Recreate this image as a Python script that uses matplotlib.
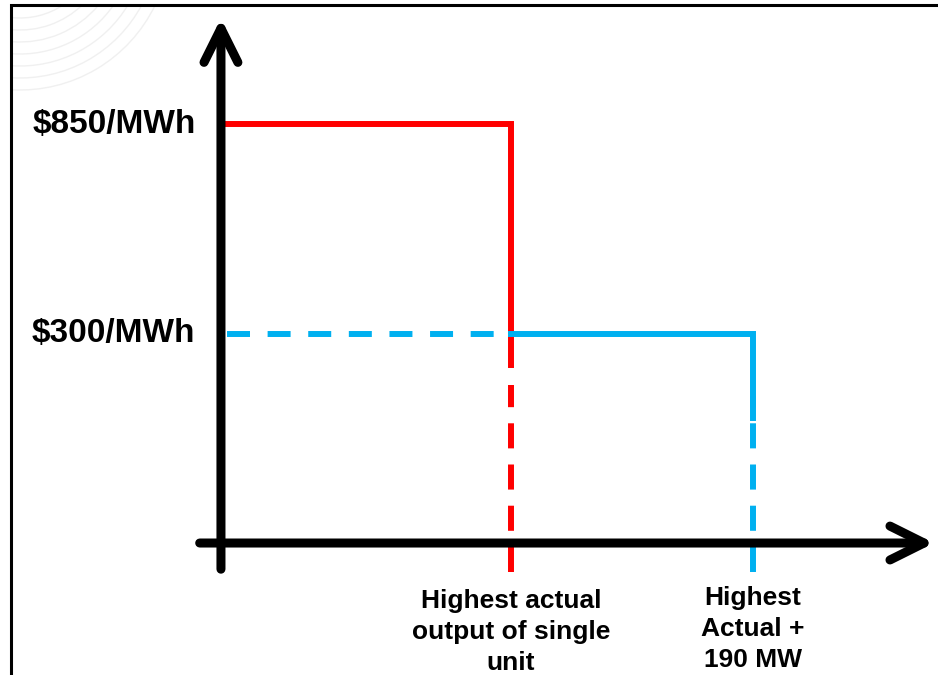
"""Schematic offer curve: price cap steps for a single unit and for highest actual + 190 MW."""

import matplotlib

matplotlib.use("Agg")
import numpy as np
import matplotlib.pyplot as plt
from matplotlib.patches import Arc

# schematic values (chart is not drawn to scale)
PRICE_LABELS = ["$850/MWh", "$300/MWh"]
PRICE_LEVELS = [2.0, 1.0]          # relative heights on the price axis
QTY_LABELS = ["Highest actual\noutput of single\nunit", "Highest\nActual +\n190 MW"]
QTY_LEVELS = [1.2, 2.2]            # relative positions on the quantity axis

RED = "#FF0000"
BLUE = "#00B0F0"
FONT = "Liberation Sans"

plt.rcParams["font.family"] = [FONT, "DejaVu Sans"]

fig = plt.figure(figsize=(9.38, 6.75), dpi=100)
ax = fig.add_axes([0, 0, 1, 1])
ax.set_xlim(-0.914, 2.966)
ax.set_ylim(-0.630, 2.592)
ax.axis("off")

# faint watermark arcs in the top-left corner, kept inside the frame
cx, cy = 20, -60  # centre in image pixels (from top-left)
for r in range(78, 160, 12):
    # angle where the arc meets the left frame edge and the top frame edge
    t_left = np.degrees(np.arctan2(-np.sqrt(r**2 - (12 - cx) ** 2), 12 - cx)) % 360
    t_top = np.degrees(np.arctan2(-(5 - cy), np.sqrt(r**2 - (5 - cy) ** 2))) % 360
    ax.add_patch(Arc((cx / 100, (675 - cy) / 100), 2 * r / 100, 2 * r / 100,
                     theta1=t_left, theta2=t_top, transform=fig.dpi_scale_trans,
                     color="#f0f0f0", lw=1.0))

# slide frame (left and top edges)
ax.plot([0.0117, 0.0117, 1.0], [0.0, 0.9926, 0.9926], transform=ax.transAxes,
        color="black", lw=2.2, clip_on=False, solid_joinstyle="miter")

# axes with open arrow heads
arrow = dict(arrowstyle="->, head_length=2.45, head_width=1.22", lw=6.5,
             color="black", shrinkA=0, shrinkB=0, mutation_scale=10,
             capstyle="round", joinstyle="round")
ax.annotate("", xy=(0, 2.505), xytext=(0, -0.125), arrowprops=arrow)
ax.annotate("", xy=(2.95, 0), xytext=(-0.088, 0), arrowprops=arrow)

lw = 4.3
hi, lo = PRICE_LEVELS
q1, q2 = QTY_LEVELS
bottom = -0.138

# red step: high price up to single-unit output
ax.plot([0, q1, q1], [hi, hi, 0.85], color=RED, lw=lw, solid_joinstyle="miter")
ax.plot([q1, q1], [bottom, 0.754], color=RED, lw=lw, dashes=(4.2, 2.7))

# blue step: low price up to highest actual + 190 MW
ax.plot([0.025, q1], [lo, lo], color=BLUE, lw=lw, dashes=(3.85, 2.95))
ax.plot([q1, q2, q2], [lo, lo, 0.597], color=BLUE, lw=lw, solid_joinstyle="miter")
ax.plot([q2, q2], [bottom, 0.70], color=BLUE, lw=lw, dashes=(4.2, 2.7))

# price labels
for level, label in zip(PRICE_LEVELS, PRICE_LABELS):
    ax.text(-0.105, level, label, ha="right", va="center", fontsize=24,
            fontweight="bold", color="black")

# quantity labels
for q, label, top in zip(QTY_LEVELS, QTY_LABELS, [-0.219, -0.205]):
    ax.text(q, top, label, ha="center", va="top", fontsize=19,
            fontweight="bold", color="black", linespacing=1.38)

fig.savefig("out.png", dpi=100)
